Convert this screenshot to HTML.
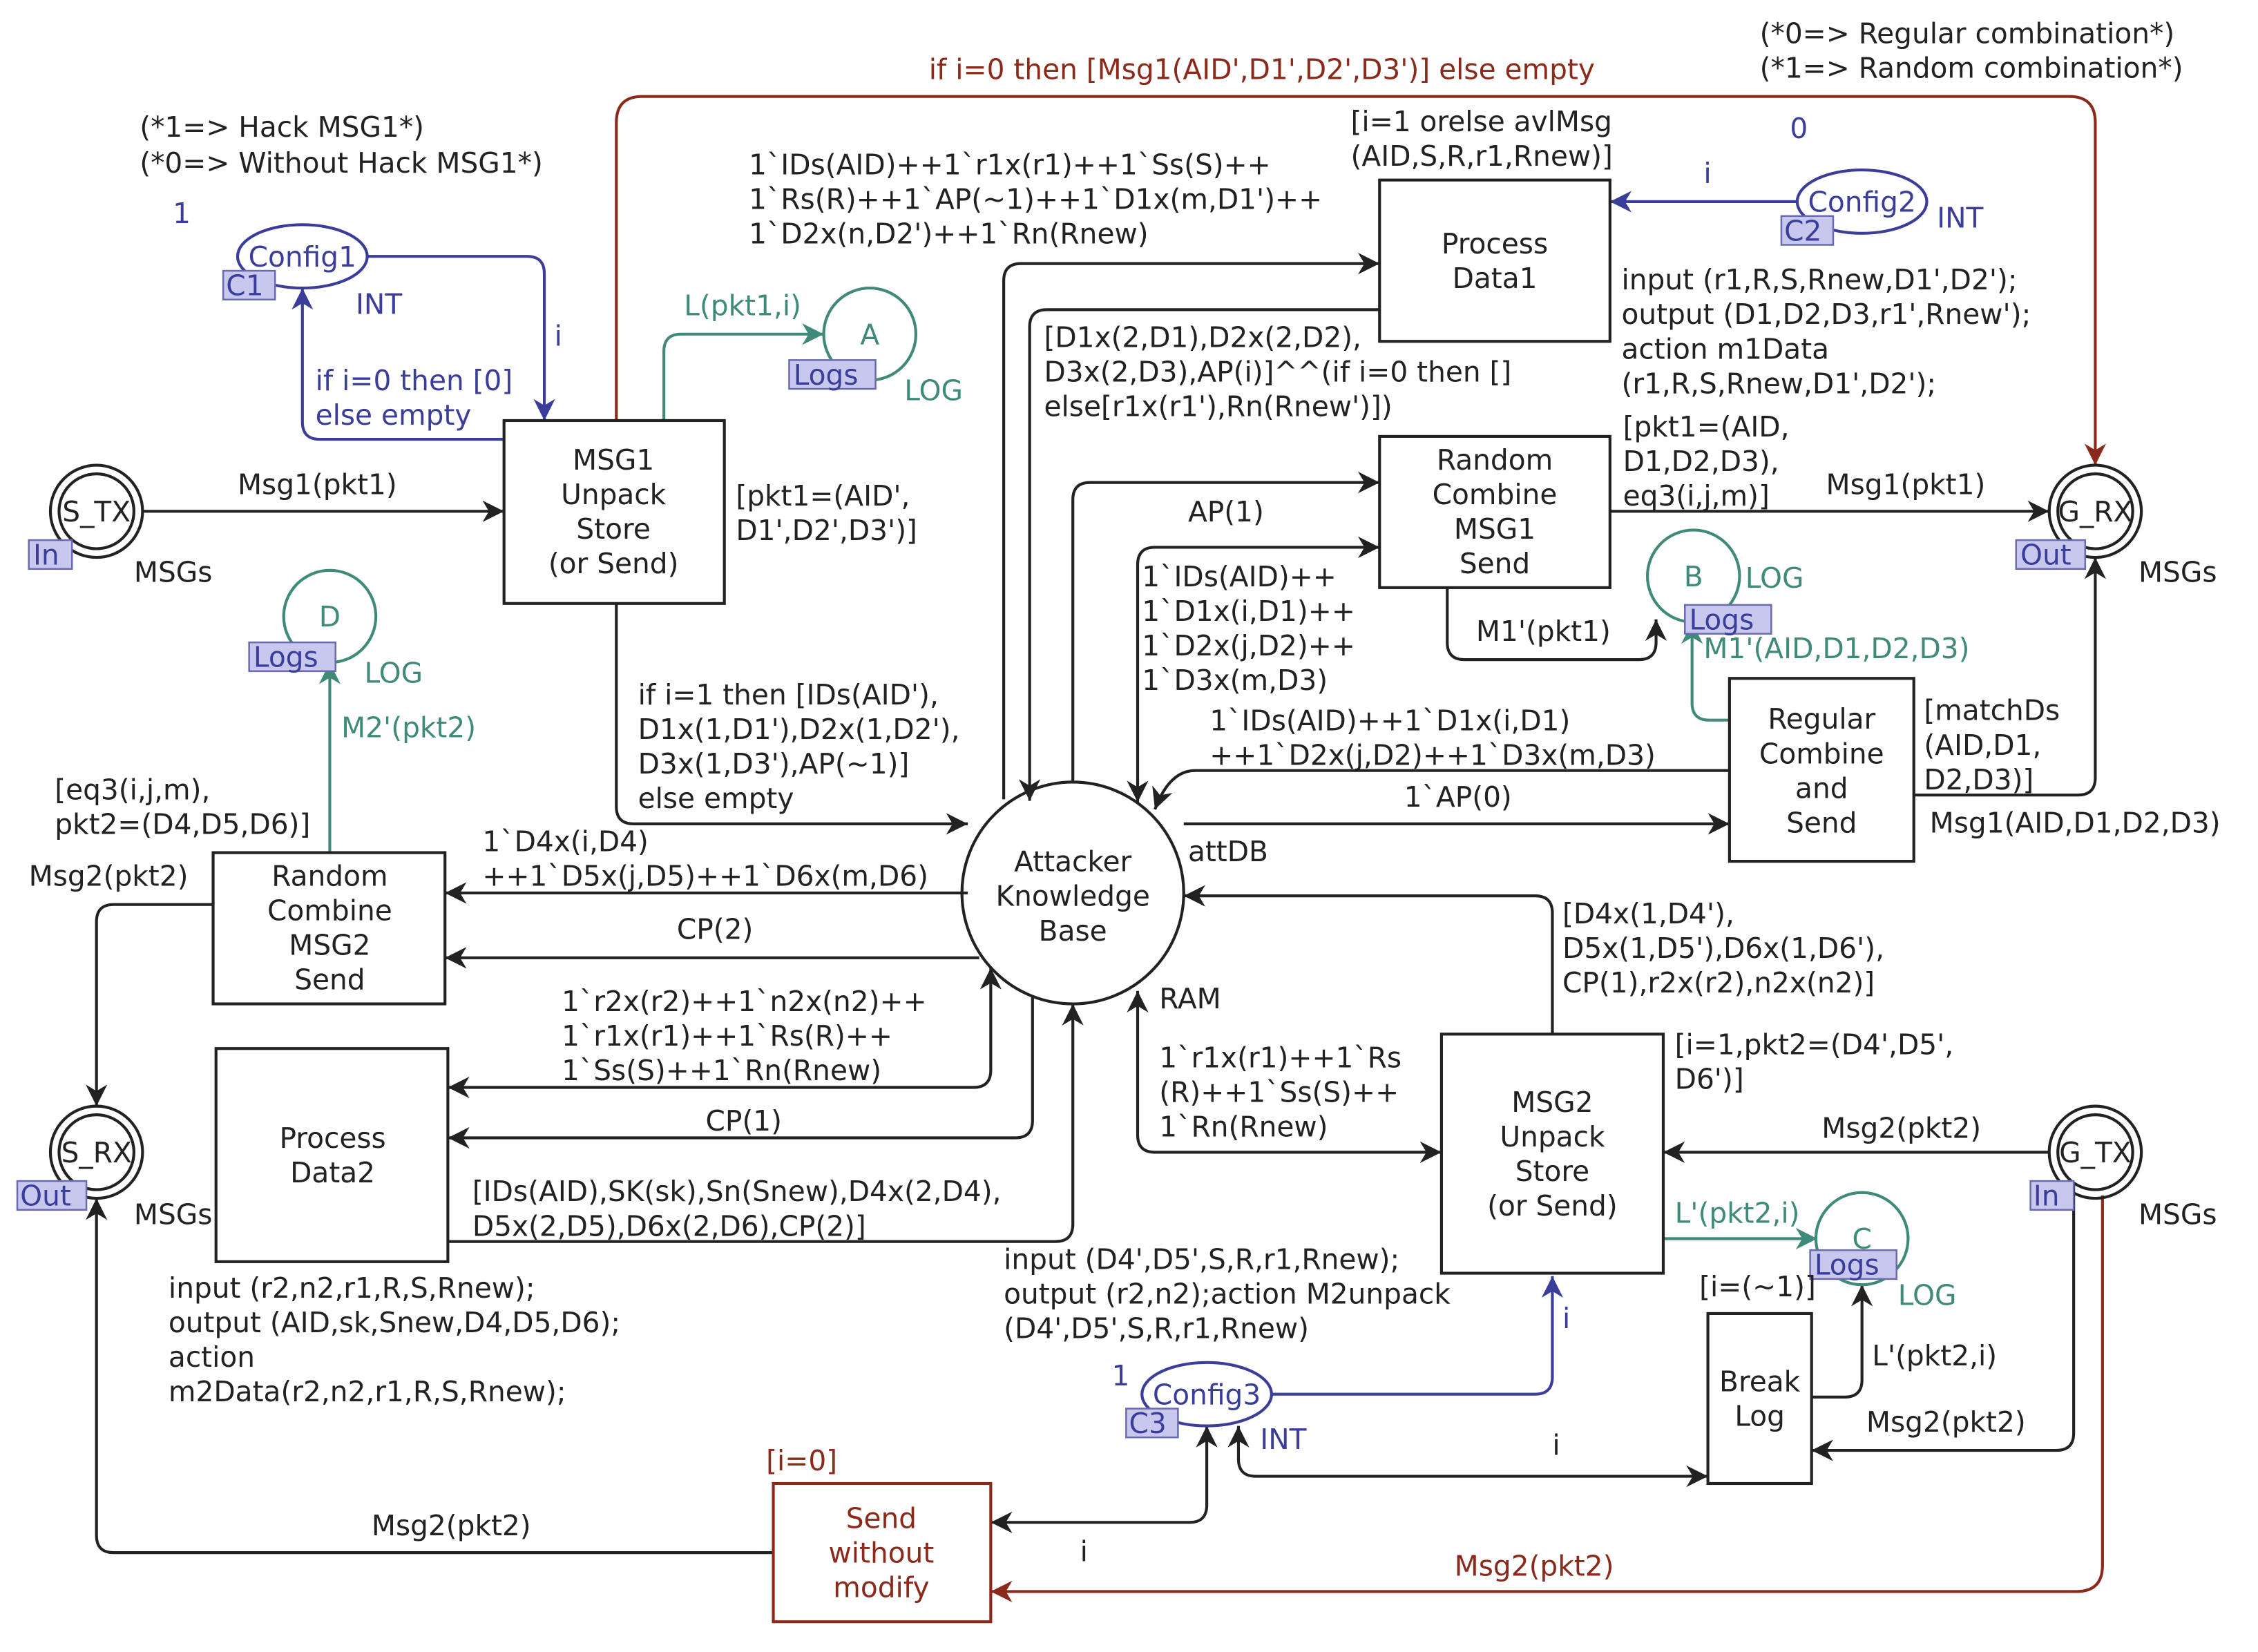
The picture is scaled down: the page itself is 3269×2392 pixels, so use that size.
<!DOCTYPE html>
<html><head><meta charset="utf-8"><style>
html,body{margin:0;padding:0;background:#fff}
svg{display:block}
text{font-family:"DejaVu Sans","Liberation Sans",sans-serif;font-size:19.5px;fill:#222}
.b{fill:#3a3e9a}.t{fill:#3f8a78}.r{fill:#8b2a1a}
.c{text-anchor:middle}
</style></head><body>
<svg width="3269" height="2392" viewBox="0 0 1568 1147" preserveAspectRatio="none" xmlns="http://www.w3.org/2000/svg">
<defs>
<marker id="k" viewBox="0 0 10 10" refX="10" refY="5" markerWidth="15" markerHeight="15" markerUnits="userSpaceOnUse" orient="auto-start-reverse"><path d="M0,0L10,5L0,10L3,5z" fill="#222"/></marker>
<marker id="bl" viewBox="0 0 10 10" refX="10" refY="5" markerWidth="15" markerHeight="15" markerUnits="userSpaceOnUse" orient="auto-start-reverse"><path d="M0,0L10,5L0,10L3,5z" fill="#3a3e9a"/></marker>
<marker id="tl" viewBox="0 0 10 10" refX="10" refY="5" markerWidth="15" markerHeight="15" markerUnits="userSpaceOnUse" orient="auto-start-reverse"><path d="M0,0L10,5L0,10L3,5z" fill="#3f8a78"/></marker>
<marker id="rd" viewBox="0 0 10 10" refX="10" refY="5" markerWidth="15" markerHeight="15" markerUnits="userSpaceOnUse" orient="auto-start-reverse"><path d="M0,0L10,5L0,10L3,5z" fill="#8b2a1a"/></marker>
</defs>
<g fill="none" stroke-width="2">
<g stroke="#222" marker-end="url(#k)">
<path d="M99,355H350"/>
<path d="M428,419V560Q428,572 440,572H672"/>
<path d="M697,555V195Q697,183 709,183H958"/>
<path d="M958,215H727Q715,215 715,227V556"/>
<path d="M745,543V347Q745,335 757,335H958"/>
<path d="M790,557V392Q790,380 802,380H958" marker-start="url(#k)"/>
<path d="M1118,355H1423"/>
<path d="M1005,408V446Q1005,458 1017,458H1138Q1150,458 1150,446V430"/>
<path d="M1329,552H1443Q1455,552 1455,540V387"/>
<path d="M1201,535H830Q812,535 802,562"/>
<path d="M822,572H1201"/>
<path d="M672,620H309"/>
<path d="M680,665H309"/>
<path d="M148,628H79Q67,628 67,640V768"/>
<path d="M688,672V743Q688,755 676,755H311" marker-start="url(#k)"/>
<path d="M717,692V778Q717,790 705,790H311"/>
<path d="M311,862H733Q745,862 745,850V697"/>
<path d="M1078,718V634Q1078,622 1066,622H822"/>
<path d="M790,688V788Q790,800 802,800H1001" marker-start="url(#k)"/>
<path d="M1423,800H1155"/>
<path d="M1440,822V995Q1440,1007 1428,1007H1258"/>
<path d="M860,990V1013Q860,1025 872,1025H1186" marker-start="url(#k)"/>
<path d="M838,990V1045Q838,1057 826,1057H688" marker-start="url(#k)"/>
<path d="M537,1078H79Q67,1078 67,1066V832"/>
<path d="M1258,970H1281Q1293,970 1293,958V892"/>
</g>
<g stroke="#3a3e9a" marker-end="url(#bl)">
<path d="M255,178H366Q378,178 378,190V292"/>
<path d="M350,305H222Q210,305 210,293V200"/>
<path d="M1248,140H1118"/>
<path d="M883,968H1066Q1078,968 1078,956V886"/>
</g>
<g stroke="#3f8a78" marker-end="url(#tl)">
<path d="M461,292V244Q461,232 473,232H572"/>
<path d="M1201,500H1187Q1175,500 1175,488V432"/>
<path d="M229,592V460"/>
<path d="M1155,860H1262"/>
</g>
<g stroke="#8b2a1a" marker-end="url(#rd)">
<path d="M428,292V85Q428,67 446,67H1437Q1455,67 1455,85V323"/>
<path d="M1460,830V1087Q1460,1105 1442,1105H688"/>
</g>
<g stroke="#222">
<circle cx="67" cy="355" r="32"/><circle cx="67" cy="355" r="26"/>
<circle cx="1455" cy="355" r="32"/><circle cx="1455" cy="355" r="26"/>
<circle cx="67" cy="800" r="32"/><circle cx="67" cy="800" r="26"/>
<circle cx="1455" cy="800" r="32"/><circle cx="1455" cy="800" r="26"/>
<circle cx="745" cy="620" r="77"/>
</g>
<g stroke="#3f8a78">
<circle cx="604" cy="232" r="32"/><circle cx="1176" cy="400" r="32"/>
<circle cx="1293" cy="860" r="32"/><circle cx="229" cy="428" r="32"/>
</g>
<g stroke="#3a3e9a">
<ellipse cx="210" cy="178" rx="45" ry="22"/>
<ellipse cx="1293" cy="140" rx="45" ry="22"/>
<ellipse cx="838" cy="968" rx="45" ry="22"/>
</g>
<g stroke="#222" fill="#fff">
<rect x="350" y="292" width="153" height="127"/>
<rect x="958" y="125" width="160" height="112"/>
<rect x="958" y="303" width="160" height="105"/>
<rect x="1201" y="471" width="128" height="127"/>
<rect x="148" y="592" width="161" height="105"/>
<rect x="150" y="728" width="161" height="148"/>
<rect x="1001" y="718" width="154" height="166"/>
<rect x="1186" y="912" width="72" height="118"/>
</g>
<rect x="537" y="1030" width="151" height="96" stroke="#8b2a1a" fill="#fff"/>
<g fill="#c8c8ee" stroke="#6a6ab0" stroke-width="1.2">
<rect x="20" y="375" width="30" height="20"/><rect x="1400" y="375" width="48" height="20"/>
<rect x="12" y="820" width="48" height="20"/><rect x="1410" y="820" width="30" height="20"/>
<rect x="155" y="188" width="36" height="20"/><rect x="1237" y="150" width="36" height="20"/>
<rect x="782" y="978" width="36" height="20"/>
<rect x="548" y="250" width="60" height="20"/><rect x="1170" y="420" width="60" height="20"/>
<rect x="1257" y="868" width="60" height="20"/><rect x="173" y="446" width="60" height="20"/>
</g>
</g>
<text x="23" y="392" class="b">In</text><text x="1403" y="392" class="b">Out</text>
<text x="14" y="837" class="b">Out</text><text x="1412" y="837" class="b">In</text>
<text x="157" y="205" class="b">C1</text><text x="1239" y="167" class="b">C2</text><text x="784" y="995" class="b">C3</text>
<text x="551" y="267" class="b">Logs</text><text x="1173" y="437" class="b">Logs</text>
<text x="1260" y="885" class="b">Logs</text><text x="176" y="463" class="b">Logs</text>
<text x="67" y="362" class="c">S_TX</text><text x="1455" y="362" class="c">G_RX</text>
<text x="67" y="807" class="c">S_RX</text><text x="1455" y="807" class="c">G_TX</text>
<text x="210" y="185" class="c b">Config1</text><text x="1293" y="147" class="c b">Config2</text><text x="838" y="975" class="c b">Config3</text>
<text x="604" y="239" class="c t">A</text><text x="1176" y="407" class="c t">B</text><text x="1293" y="867" class="c t">C</text><text x="229" y="435" class="c t">D</text>
<text x="745" y="605" class="c">Attacker</text><text x="745" y="629" class="c">Knowledge</text><text x="745" y="653" class="c">Base</text>
<g class="c">
<text x="426" y="326" class="c">MSG1</text><text x="426" y="350" class="c">Unpack</text><text x="426" y="374" class="c">Store</text><text x="426" y="398" class="c">(or Send)</text>
<text x="1038" y="176" class="c">Process</text><text x="1038" y="200" class="c">Data1</text>
<text x="1038" y="326" class="c">Random</text><text x="1038" y="350" class="c">Combine</text><text x="1038" y="374" class="c">MSG1</text><text x="1038" y="398" class="c">Send</text>
<text x="1265" y="506" class="c">Regular</text><text x="1265" y="530" class="c">Combine</text><text x="1265" y="554" class="c">and</text><text x="1265" y="578" class="c">Send</text>
<text x="229" y="615" class="c">Random</text><text x="229" y="639" class="c">Combine</text><text x="229" y="663" class="c">MSG2</text><text x="229" y="687" class="c">Send</text>
<text x="231" y="797" class="c">Process</text><text x="231" y="821" class="c">Data2</text>
<text x="1078" y="772" class="c">MSG2</text><text x="1078" y="796" class="c">Unpack</text><text x="1078" y="820" class="c">Store</text><text x="1078" y="844" class="c">(or Send)</text>
<text x="1222" y="966" class="c">Break</text><text x="1222" y="990" class="c">Log</text>
<text x="612" y="1061" class="c r">Send</text><text x="612" y="1085" class="c r">without</text><text x="612" y="1109" class="c r">modify</text>
</g>
<text x="97" y="95">(*1=&gt; Hack MSG1*)</text><text x="97" y="120">(*0=&gt; Without Hack MSG1*)</text>
<text x="120" y="155" class="b">1</text><text x="247" y="218" class="b">INT</text><text x="385" y="240" class="b">i</text>
<text x="219" y="271" class="b">if i=0 then [0]</text><text x="219" y="295" class="b">else empty</text>
<text x="1222" y="30">(*0=&gt; Regular combination*)</text><text x="1222" y="54">(*1=&gt; Random combination*)</text>
<text x="1243" y="96" class="b">0</text><text x="1345" y="158" class="b">INT</text><text x="1183" y="127" class="b">i</text>
<text x="645" y="55" class="r">if i=0 then [Msg1(AID',D1',D2',D3')] else empty</text>
<text x="938" y="91">[i=1 orelse avlMsg</text><text x="938" y="115">(AID,S,R,r1,Rnew)]</text>
<text x="520" y="121">1`IDs(AID)++1`r1x(r1)++1`Ss(S)++</text>
<text x="520" y="145">1`Rs(R)++1`AP(~1)++1`D1x(m,D1')++</text>
<text x="520" y="169">1`D2x(n,D2')++1`Rn(Rnew)</text>
<text x="475" y="219" class="t">L(pkt1,i)</text><text x="628" y="278" class="t">LOG</text>
<text x="725" y="241">[D1x(2,D1),D2x(2,D2),</text><text x="725" y="265">D3x(2,D3),AP(i)]^^(if i=0 then []</text><text x="725" y="289">else[r1x(r1'),Rn(Rnew')])</text>
<text x="1126" y="201">input (r1,R,S,Rnew,D1',D2');</text><text x="1126" y="225">output (D1,D2,D3,r1',Rnew');</text>
<text x="1126" y="249">action m1Data</text><text x="1126" y="273">(r1,R,S,Rnew,D1',D2');</text>
<text x="165" y="343">Msg1(pkt1)</text><text x="93" y="404">MSGs</text>
<text x="511" y="351">[pkt1=(AID',</text><text x="511" y="375">D1',D2',D3')]</text>
<text x="1127" y="303">[pkt1=(AID,</text><text x="1127" y="327">D1,D2,D3),</text><text x="1127" y="351">eq3(i,j,m)]</text>
<text x="1268" y="343">Msg1(pkt1)</text><text x="1485" y="404">MSGs</text>
<text x="825" y="362">AP(1)</text>
<text x="793" y="407">1`IDs(AID)++</text><text x="793" y="431">1`D1x(i,D1)++</text><text x="793" y="455">1`D2x(j,D2)++</text><text x="793" y="479">1`D3x(m,D3)</text>
<text x="1025" y="445">M1'(pkt1)</text><text x="1212" y="408" class="t">LOG</text>
<text x="1183" y="457" class="t">M1'(AID,D1,D2,D3)</text>
<text x="1336" y="500">[matchDs</text><text x="1336" y="524">(AID,D1,</text><text x="1336" y="548">D2,D3)]</text>
<text x="1340" y="578">Msg1(AID,D1,D2,D3)</text>
<text x="840" y="507">1`IDs(AID)++1`D1x(i,D1)</text><text x="840" y="531">++1`D2x(j,D2)++1`D3x(m,D3)</text>
<text x="975" y="560">1`AP(0)</text><text x="825" y="598">attDB</text>
<text x="443" y="489">if i=1 then [IDs(AID'),</text><text x="443" y="513">D1x(1,D1'),D2x(1,D2'),</text><text x="443" y="537">D3x(1,D3'),AP(~1)]</text><text x="443" y="561">else empty</text>
<text x="237" y="512" class="t">M2'(pkt2)</text><text x="253" y="474" class="t">LOG</text>
<text x="38" y="555">[eq3(i,j,m),</text><text x="38" y="579">pkt2=(D4,D5,D6)]</text>
<text x="20" y="615">Msg2(pkt2)</text>
<text x="335" y="591">1`D4x(i,D4)</text><text x="335" y="615">++1`D5x(j,D5)++1`D6x(m,D6)</text>
<text x="470" y="652">CP(2)</text>
<text x="390" y="702">1`r2x(r2)++1`n2x(n2)++</text><text x="390" y="726">1`r1x(r1)++1`Rs(R)++</text><text x="390" y="750">1`Ss(S)++1`Rn(Rnew)</text>
<text x="490" y="785">CP(1)</text>
<text x="328" y="834">[IDs(AID),SK(sk),Sn(Snew),D4x(2,D4),</text><text x="328" y="858">D5x(2,D5),D6x(2,D6),CP(2)]</text>
<text x="93" y="850">MSGs</text>
<text x="117" y="901">input (r2,n2,r1,R,S,Rnew);</text><text x="117" y="925">output (AID,sk,Snew,D4,D5,D6);</text><text x="117" y="949">action</text><text x="117" y="973">m2Data(r2,n2,r1,R,S,Rnew);</text>
<text x="805" y="700">RAM</text>
<text x="805" y="741">1`r1x(r1)++1`Rs</text><text x="805" y="765">(R)++1`Ss(S)++</text><text x="805" y="789">1`Rn(Rnew)</text>
<text x="1085" y="641">[D4x(1,D4'),</text><text x="1085" y="665">D5x(1,D5'),D6x(1,D6'),</text><text x="1085" y="689">CP(1),r2x(r2),n2x(n2)]</text>
<text x="1163" y="732">[i=1,pkt2=(D4',D5',</text><text x="1163" y="756">D6')]</text>
<text x="1265" y="790">Msg2(pkt2)</text><text x="1485" y="850">MSGs</text>
<text x="1163" y="849" class="t">L'(pkt2,i)</text><text x="1318" y="906" class="t">LOG</text>
<text x="1180" y="900">[i=(~1)]</text><text x="1300" y="948">L'(pkt2,i)</text><text x="1296" y="994">Msg2(pkt2)</text>
<text x="697" y="881">input (D4',D5',S,R,r1,Rnew);</text><text x="697" y="905">output (r2,n2);action M2unpack</text><text x="697" y="929">(D4',D5',S,R,r1,Rnew)</text>
<text x="1085" y="922" class="b">i</text>
<text x="772" y="962" class="b">1</text><text x="875" y="1006" class="b">INT</text>
<text x="1078" y="1010">i</text><text x="750" y="1084">i</text>
<text x="532" y="1021" class="r">[i=0]</text>
<text x="258" y="1066">Msg2(pkt2)</text>
<text x="1010" y="1094" class="r">Msg2(pkt2)</text>
</svg>
</body></html>
